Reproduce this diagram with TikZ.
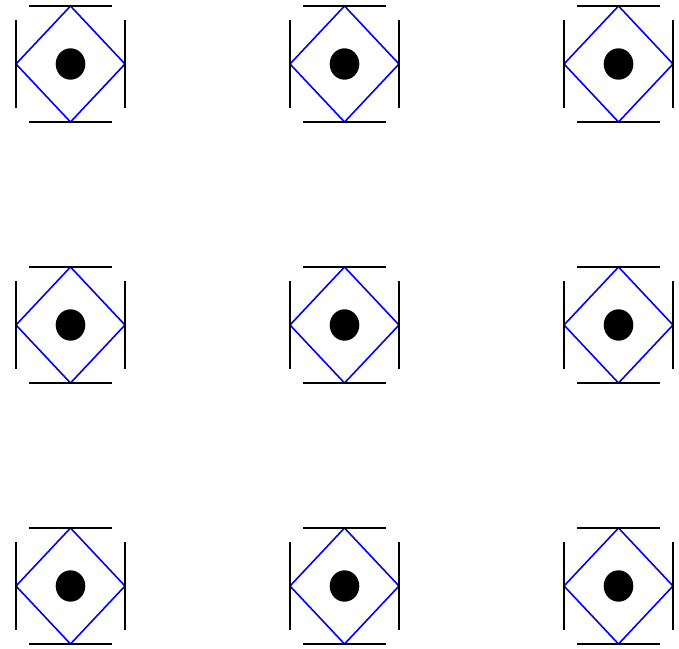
\documentclass[tikz,border=0pt]{standalone}
\begin{document}
\begin{tikzpicture}[x=1pt,y=-1pt,
  bar/.style={black,line width=2pt},
  dia/.style={blue,line width=1.6pt},
  dot/.style={fill=black}]
\useasboundingbox (0,0) rectangle (679,648);
\foreach \i in {0,1,2}{
  \foreach \j in {0,1,2}{
    \begin{scope}[shift={(70.5+274*\i,64+261*\j)}]
      \draw[dia] (0,-58) -- (54.5,0) -- (0,58) -- (-54.5,0) -- cycle;
      \fill[dot] (0,0) ellipse [x radius=14.8, y radius=15.7];
      \draw[bar] (-41.5,-58) -- (41.5,-58);
      \draw[bar] (-41.5,58) -- (41.5,58);
      \draw[bar] (-54.5,-44) -- (-54.5,44);
      \draw[bar] (54.5,-44) -- (54.5,44);
    \end{scope}
  }
}
\end{tikzpicture}
\end{document}
